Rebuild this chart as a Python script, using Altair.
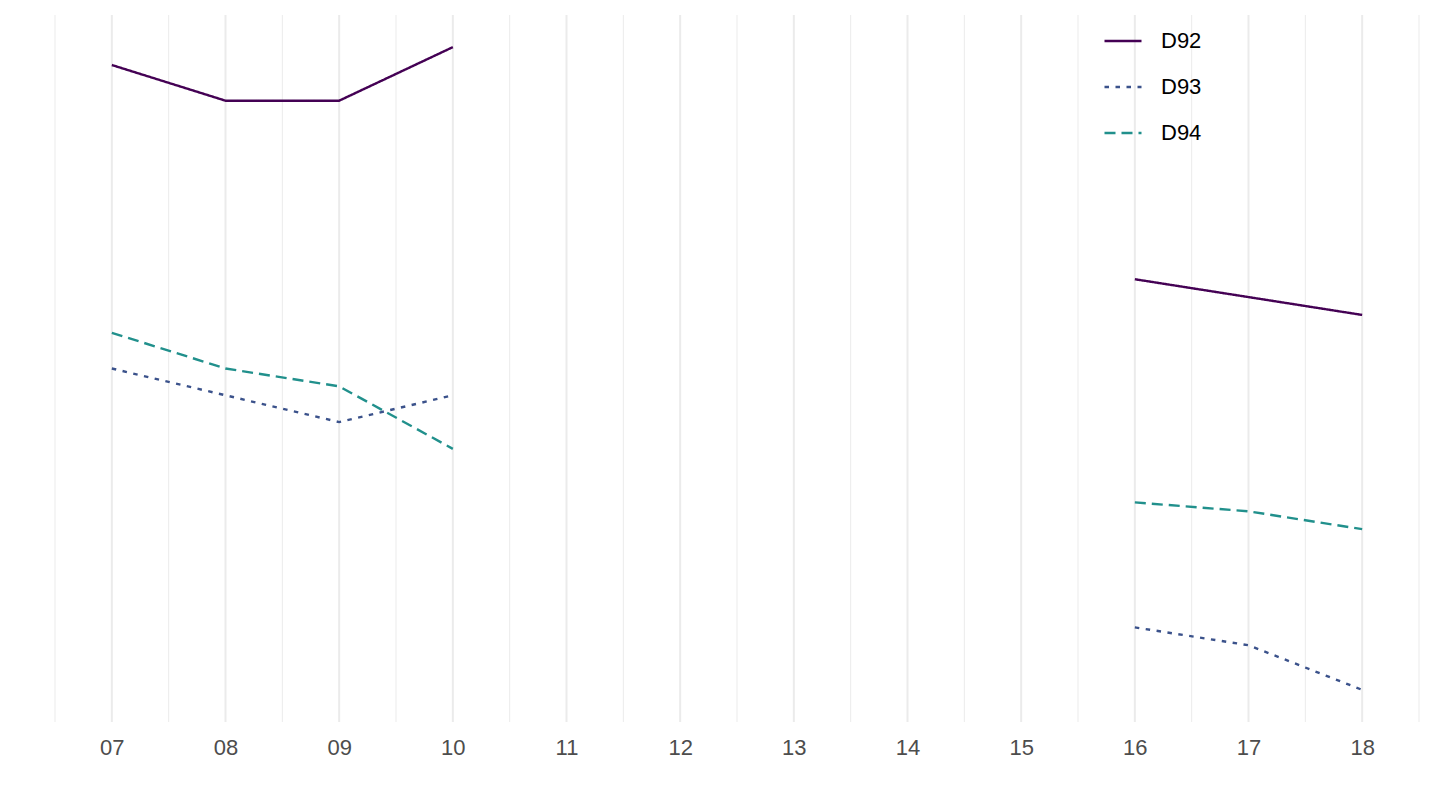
import altair as alt
import pandas as pd

years = [7, 8, 9, 10, 16, 17, 18]
segments = ["a", "a", "a", "a", "b", "b", "b"]
d92 = [98, 94, 94, 100, 74, 72, 70]
d93 = [64, 61, 58, 61, 35, 33, 28]
d94 = [68, 64, 62, 55, 49, 48, 46]

series = ["D92", "D93", "D94"]
colors = ["#440154", "#3B528B", "#21908C"]
dashes = [[1, 0], [4.5, 6.5], [11, 6]]

major_ticks = list(range(7, 19))
minor_ticks = [x + 0.5 for x in range(6, 19)]

rows = []
for name, vals in zip(series, [d92, d93, d94]):
    for x, s, v in zip(years, segments, vals):
        rows.append({"year": x, "seg": s, "value": v, "series": name})
df = pd.DataFrame(rows)

xscale = alt.Scale(domain=[6.5, 18.5], nice=False, zero=False)
yscale = alt.Scale(domain=[24.4, 103.6], nice=False, zero=False)

xaxis = alt.Axis(
    values=major_ticks,
    format="02d",
    title=None,
    grid=False,
    ticks=False,
    domain=False,
    labelColor="#4D4D4D",
    labelFontSize=22,
    labelFont="Liberation Sans",
    labelPadding=15,
)

minor = alt.Chart(pd.DataFrame({"x": minor_ticks})).mark_rule(
    color="#EBEBEB", strokeWidth=1
).encode(x=alt.X("x:Q", scale=xscale, axis=xaxis))

major = alt.Chart(pd.DataFrame({"x": major_ticks})).mark_rule(
    color="#EBEBEB", strokeWidth=2
).encode(x=alt.X("x:Q", scale=xscale, axis=xaxis))

lines = alt.Chart(df).mark_line(strokeWidth=2.4).encode(
    x=alt.X("year:Q", scale=xscale, axis=xaxis),
    y=alt.Y("value:Q", scale=yscale, axis=None),
    color=alt.Color(
        "series:N",
        scale=alt.Scale(domain=series, range=colors),
        legend=alt.Legend(
            title=None,
            orient="none",
            legendX=1048,
            legendY=6,
            symbolType="stroke",
            symbolSize=1369,
            symbolStrokeWidth=2.4,
            labelFontSize=22,
            labelFont="Liberation Sans",
            labelColor="#000000",
            labelOffset=18,
            rowPadding=15,
            padding=0,
        ),
    ),
    strokeDash=alt.StrokeDash(
        "series:N",
        scale=alt.Scale(domain=series, range=dashes),
        legend=None,
    ),
    detail="seg:N",
)

chart = alt.layer(minor, major, lines).properties(
    width=1364,
    height=707,
    padding={"left": 47, "top": 7, "right": 10, "bottom": 70},
    autosize=alt.AutoSizeParams(type="none"),
    background="white",
).configure_view(stroke=None)

chart.save("out.html", embed_options={"renderer": "svg", "actions": False})
